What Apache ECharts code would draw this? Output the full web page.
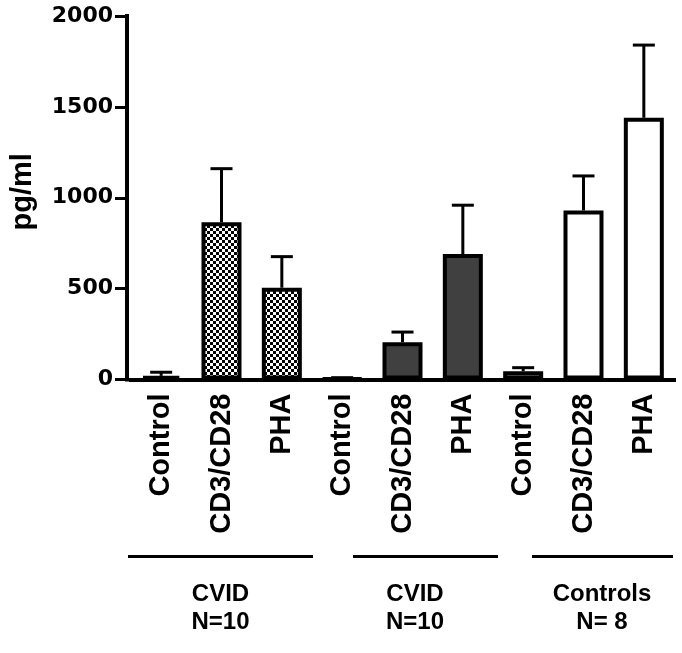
<!DOCTYPE html>
<html>
<head>
<meta charset="utf-8">
<script src="https://cdn.jsdelivr.net/npm/echarts@6/dist/echarts.min.js"></script>
<style>html,body{margin:0;padding:0;background:#fff;}#c{width:682px;height:653px;}</style>
</head>
<body>
<div id="c"></div>
<script>
// ---- data ----
const categories = ['Control', 'CD3/CD28', 'PHA', 'Control', 'CD3/CD28', 'PHA', 'Control', 'CD3/CD28', 'PHA'];
const groupOf = [0, 0, 0, 1, 1, 1, 2, 2, 2];
const meanValues = [20, 865, 505, 5, 205, 690, 45, 930, 1440];
const errorValues = [20, 295, 171, 5, 56, 269, 20, 190, 400];
const groupNames = ['CVID\nN=10', 'CVID\nN=10', 'Controls\nN= 8'];
const yTicks = [0, 500, 1000, 1500, 2000];

// ---- styles ----
function checker() {
  const c = document.createElement('canvas');
  const s = 3;
  c.width = 2 * s; c.height = 2 * s;
  const g = c.getContext('2d');
  g.fillStyle = '#fff'; g.fillRect(0, 0, 2 * s, 2 * s);
  g.fillStyle = '#000';
  g.fillRect(0, 0, s, s); g.fillRect(s, s, s, s);
  return c;
}
const groupFills = [{ image: checker(), repeat: 'repeat' }, '#404040', '#ffffff'];

const chart = echarts.init(document.getElementById('c'), null, { renderer: 'canvas' });

const barData = meanValues.map((v, i) => ({
  value: v,
  itemStyle: { color: groupFills[groupOf[i]], borderColor: '#000', borderWidth: 4 }
}));
const errData = meanValues.map((v, i) => [i, v, errorValues[i]]);

// group annotation layout (pixels)
const groupLines = [[128, 313], [353, 498], [532, 673]];
const groupCenters = [220.5, 415, 602];
const graphics = [];
groupLines.forEach((l, k) => {
  graphics.push({
    type: 'line', shape: { x1: l[0], y1: 556.5, x2: l[1], y2: 556.5 },
    style: { stroke: '#000', lineWidth: 3 }
  });
  graphics.push({
    type: 'text', x: groupCenters[k], y: 580,
    style: {
      text: groupNames[k], fill: '#000', align: 'center', verticalAlign: 'top',
      font: 'bold 24px "Liberation Sans", Arial, sans-serif', lineHeight: 28
    }
  });
});

chart.setOption({
  animation: false,
  backgroundColor: '#fff',
  grid: { left: 130, right: 8, top: 16, bottom: 273.5, containLabel: false },
  xAxis: {
    type: 'category',
    data: categories,
    boundaryGap: true,
    axisLine: { lineStyle: { color: '#000', width: 4, cap: 'square' } },
    axisTick: { alignWithLabel: true, interval: 0, length: 11, lineStyle: { color: '#000', width: 3 } },
    axisLabel: {
      interval: 0, rotate: 90, margin: 14, color: '#000',
      fontFamily: '"Liberation Sans", Arial, sans-serif', fontWeight: 'bold', fontSize: 29
    },
    splitLine: { show: false }
  },
  yAxis: {
    type: 'value',
    min: yTicks[0], max: yTicks[yTicks.length - 1], interval: 500,
    offset: 4,
    name: 'pg/ml', nameLocation: 'middle', nameRotate: 90, nameGap: 90,
    nameTextStyle: {
      color: '#000', fontFamily: '"Liberation Sans", Arial, sans-serif', fontWeight: 'bold', fontSize: 29,
      padding: [0, 0, 0, 12]
    },
    axisLine: { show: true, lineStyle: { color: '#000', width: 4, cap: 'square' } },
    axisTick: { show: true, length: 12, lineStyle: { color: '#000', width: 3 } },
    axisLabel: {
      margin: 14, color: '#000',
      formatter: function (v) { return String(v); },
      fontFamily: '"DejaVu Sans", sans-serif', fontWeight: 'bold', fontSize: 22
    },
    splitLine: { show: false }
  },
  graphic: graphics,
  series: [
    {
      type: 'custom',
      z: 1,
      data: errData,
      encode: { x: 0, y: 1 },
      renderItem: function (params, api) {
        const x = api.value(0), v = api.value(1), e = api.value(2);
        const p0 = api.coord([x, v]);
        const p1 = api.coord([x, v + e]);
        const half = 11;
        return {
          type: 'group',
          children: [
            { type: 'line', shape: { x1: p0[0], y1: p0[1], x2: p1[0], y2: p1[1] }, style: { stroke: '#000', lineWidth: 3 } },
            { type: 'line', shape: { x1: p1[0] - half, y1: p1[1], x2: p1[0] + half, y2: p1[1] }, style: { stroke: '#000', lineWidth: 3 } }
          ]
        };
      }
    },
    {
      type: 'bar',
      z: 2,
      barWidth: 40,
      data: barData
    }
  ]
});
</script>
</body>
</html>
